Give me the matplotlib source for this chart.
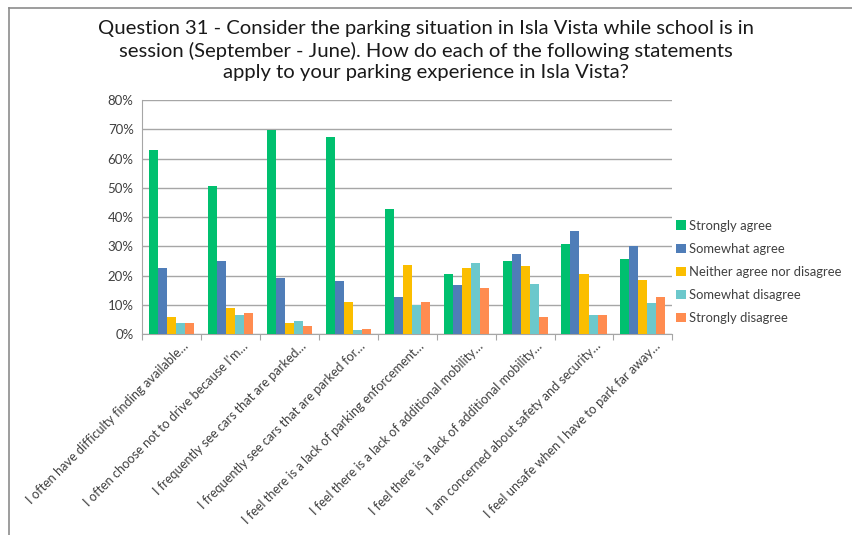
import matplotlib
matplotlib.use("Agg")
import matplotlib.pyplot as plt
import numpy as np
from matplotlib.lines import Line2D
from matplotlib.transforms import ScaledTranslation

categories = [
    "I often have difficulty finding available\u2026",
    "I often choose not to drive because I'm\u2026",
    "I frequently see cars that are parked\u2026",
    "I frequently see cars that are parked for\u2026",
    "I feel there is a lack of parking enforcement\u2026",
    "I feel there is a lack of additional mobility\u2026",
    "I feel there is a lack of additional mobility\u2026",
    "I am concerned about safety and security\u2026",
    "I feel unsafe when I have to park far away\u2026",
]
series_names = ["Strongly agree", "Somewhat agree", "Neither agree nor disagree",
                "Somewhat disagree", "Strongly disagree"]
strongly_agree = [62.9, 50.6, 69.9, 67.4, 42.9, 20.5, 25.0, 30.7, 25.7]
somewhat_agree = [22.5, 25.0, 19.2, 18.1, 12.7, 16.6, 27.5, 35.2, 30.2]
neither = [5.7, 8.9, 3.8, 11.0, 23.7, 22.5, 23.1, 20.5, 18.6]
somewhat_disagree = [3.9, 6.5, 4.6, 1.3, 9.8, 24.2, 17.1, 6.5, 10.6]
strongly_disagree = [3.9, 7.3, 2.7, 1.8, 11.0, 15.8, 5.9, 6.5, 12.7]
series = [strongly_agree, somewhat_agree, neither, somewhat_disagree, strongly_disagree]
colors = ["#00C06F", "#4F7DB8", "#FBBE00", "#6CC8CC", "#FF8C50"]

plt.rcParams['font.family'] = ['Lato', 'DejaVu Sans']

fig = plt.figure(figsize=(8.52, 5.35), dpi=100)
W, H = 852, 535
fig.add_artist(Line2D([8.5 / W, 8.5 / W], [0, 1 - 7.5 / H], transform=fig.transFigure,
                      color="#8C8C8C", linewidth=1.2))
fig.add_artist(Line2D([8.5 / W, 1], [1 - 7.5 / H, 1 - 7.5 / H], transform=fig.transFigure,
                      color="#8C8C8C", linewidth=1.2))
ax = fig.add_axes([0.1667, 0.3757, 0.6225, 0.4373])

n = len(categories)
x = np.arange(n)
bw = 0.153
for i, (vals, name, c) in enumerate(zip(series, series_names, colors)):
    ax.bar(x + (i - 2) * bw, vals, width=bw, color=c, label=name, zorder=3)

ax.set_xlim(-0.5, n - 0.5)
ax.set_ylim(0, 80)
ax.set_yticks(np.arange(0, 81, 10))
ax.set_yticklabels([f"{v}%" for v in range(0, 81, 10)], fontsize=9.5, color="#404040")
ax.yaxis.grid(True, color="#A6A6A6", linewidth=1, zorder=0)
ax.set_axisbelow(True)
for s in ["top", "right"]:
    ax.spines[s].set_visible(False)
ax.spines["left"].set_color("#A6A6A6")
ax.spines["bottom"].set_color("#A6A6A6")
ax.tick_params(axis="y", length=0, pad=6)

ax.set_xticks(np.arange(-0.5, n, 1.0), minor=False)
ax.set_xticklabels([])
ax.tick_params(axis="x", which="major", length=4, color="#A6A6A6")
ax.set_xticks(x, minor=True)
ax.set_xticklabels(categories, minor=True, rotation=45, ha="right", va="top",
                   rotation_mode="anchor", fontsize=9.2, color="#404040")
ax.tick_params(axis="x", which="minor", length=0, pad=4)
offset = ScaledTranslation(11 / 100, 0, fig.dpi_scale_trans)
for lab in ax.get_xticklabels(minor=True):
    lab.set_transform(lab.get_transform() + offset)

fig.text(0.5, 0.962, "Question 31 - Consider the parking situation in Isla Vista while school is in\n"
         "session (September - June). How do each of the following statements\n"
         "apply to your parking experience in Isla Vista?",
         ha="center", va="top", fontsize=14.6, color="#1A1A1A", linespacing=1.3)

leg = ax.legend(loc="center left", bbox_to_anchor=(1.0, 0.265), frameon=False,
                fontsize=9.4, handlelength=0.75, handleheight=0.75, handletextpad=0.25,
                labelspacing=0.85, borderpad=0, borderaxespad=0.3)
for t in leg.get_texts():
    t.set_color("#404040")

fig.savefig("out.png", dpi=100)
